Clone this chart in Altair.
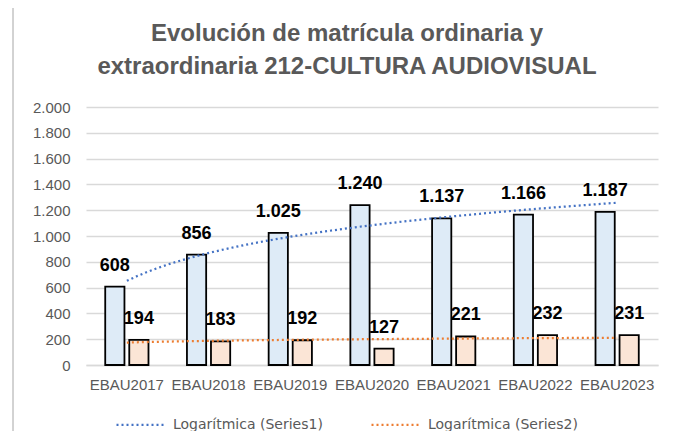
import altair as alt
import pandas as pd

categories = ["EBAU2017", "EBAU2018", "EBAU2019", "EBAU2020", "EBAU2021", "EBAU2022", "EBAU2023"]
ordinaria = [608, 856, 1025, 1240, 1137, 1166, 1187]
extraordinaria = [194, 183, 192, 127, 221, 232, 231]
series_names = ["Series1", "Series2"]
trend_names = ["Logarítmica (Series1)", "Logarítmica (Series2)"]
y_ticks = [0, 200, 400, 600, 800, 1000, 1200, 1400, 1600, 1800, 2000]
title_lines = ["Evolución de matrícula ordinaria y", "extraordinaria 212-CULTURA AUDIOVISUAL"]

rows = []
for i, c in enumerate(categories):
    rows.append({"cat": c, "idx": i + 1, "serie": "Series1", "value": ordinaria[i]})
    rows.append({"cat": c, "idx": i + 1, "serie": "Series2", "value": extraordinaria[i]})
df = pd.DataFrame(rows)

FONT = "Liberation Sans"
fmt = "replace(format(datum.value, ','), ',', '.')"

base = alt.Chart(df)

x_band = alt.X(
    "cat:N", sort=categories,
    scale=alt.Scale(paddingInner=0, paddingOuter=0),
    axis=alt.Axis(title=None, labelAngle=0, ticks=False, domainColor="#D9D9D9", domainWidth=1.5,
                  labelColor="#595959", labelFontSize=15, labelPadding=12, labelFont=FONT),
)
x_off = alt.XOffset("serie:N", sort=series_names, scale=alt.Scale(paddingInner=0.2, paddingOuter=0.8))
y_q = alt.Y(
    "value:Q",
    scale=alt.Scale(domain=[0, 2000], nice=False),
    axis=alt.Axis(title=None, values=y_ticks, labelExpr=fmt, ticks=False, domain=False,
                  gridColor="#D9D9D9", gridWidth=1.5, labelColor="#595959", labelFontSize=15,
                  labelPadding=16, labelFont=FONT, labelOverlap=False),
)

bars = base.mark_bar(stroke="black", strokeWidth=1.8).encode(
    x=x_band, xOffset=x_off, y=y_q,
    fill=alt.Fill("serie:N", scale=alt.Scale(domain=series_names, range=["#DEEBF7", "#FBE5D6"]), legend=None),
)

labels = base.transform_calculate(lab=fmt).mark_text(
    font=FONT, fontSize=18, fontWeight="bold", color="black", baseline="middle", dy=-21
).encode(x=x_band, xOffset=x_off, y=y_q, text="lab:N")

bar_layer = alt.layer(bars, labels)

trend = base.transform_regression(
    "idx", "value", method="log", groupby=["serie"]
).transform_calculate(
    tname="'Logarítmica (' + datum.serie + ')'"
).mark_line(strokeDash=[2, 3], strokeWidth=2.25).encode(
    x=alt.X("idx:Q", scale=alt.Scale(domain=[0.5, 7.5], nice=False, zero=False), axis=None),
    y=y_q,
    color=alt.Color(
        "tname:N",
        scale=alt.Scale(domain=trend_names, range=["#4472C4", "#ED7D31"]),
        legend=alt.Legend(title=None, orient="none", legendX=29, legendY=292, direction="horizontal",
                          symbolType="stroke", symbolSize=2304, symbolDash=[2, 3], symbolStrokeWidth=2.25,
                          labelFontSize=14, labelColor="#595959", labelFont="DejaVu Sans", columnPadding=44,
                          labelOffset=7, padding=0),
    ),
)

border = alt.Chart(pd.DataFrame({"a": [0]})).mark_rule(color="#A6A6A6", strokeWidth=1).encode(
    x=alt.value(-73), y=alt.value(-107), y2=alt.value(332)
)

chart = alt.layer(bar_layer, trend, border).resolve_scale(x="independent").properties(
    width=572, height=258,
    autosize=alt.AutoSizeParams(type="none"),
    padding={"left": 78, "top": 99, "right": 13, "bottom": 66},
    background="white",
    title=alt.TitleParams(title_lines, fontSize=24, fontWeight="bold", color="#595959", font=FONT,
                          lineHeight=33, anchor="middle", frame="group", dx=-25, offset=-79),
).configure_view(stroke=None)

chart.save("out.html", embed_options={"renderer": "svg", "actions": False})
